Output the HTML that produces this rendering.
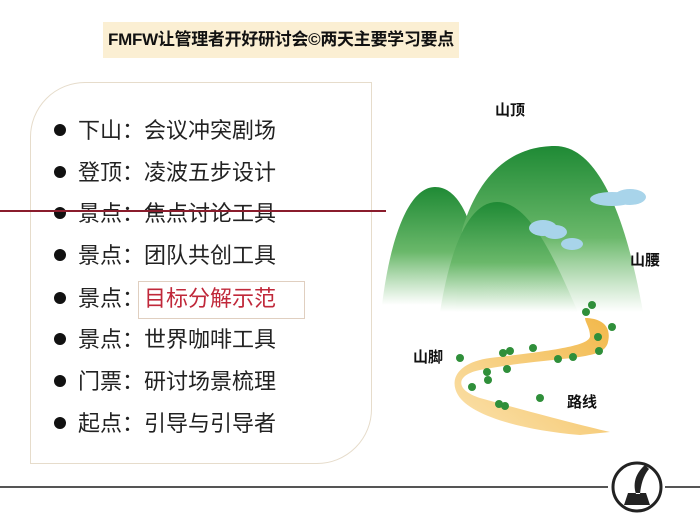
<!DOCTYPE html>
<html><head><meta charset="utf-8"><style>
body{margin:0;width:700px;height:525px;background:#fff;position:relative;overflow:hidden;font-family:"Liberation Sans","Noto Sans CJK SC",sans-serif;}
.t{position:absolute;left:103px;top:22px;width:356px;height:36px;background:#fbefd3;font-weight:bold;font-size:17px;line-height:36px;text-align:center;color:#111;letter-spacing:-0.3px;white-space:nowrap}
.box{position:absolute;left:30px;top:82px;width:340px;height:380px;border:1.5px solid #e6dccb;border-radius:55px 0 55px 0;}
.r{position:absolute;left:54px;font-size:22px;color:#222;height:30px;line-height:30px;white-space:nowrap}
.r b{display:inline-block;width:12px;height:12px;border-radius:50%;background:#111;margin-right:12px;vertical-align:middle;position:relative;top:-2px}
.lab{position:absolute;font-weight:bold;font-size:15px;color:#111}
</style></head><body>
<div class="t">FMFW让管理者开好研讨会©两天主要学习要点</div>
<div class="box"></div>
<div class="r" style="top:116px"><b></b>下山：会议冲突剧场</div>
<div class="r" style="top:158px"><b></b>登顶：凌波五步设计</div>
<div class="r" style="top:199px"><b></b>景点：焦点讨论工具</div>
<div class="r" style="top:241px"><b></b>景点：团队共创工具</div>
<div class="r" style="top:284px"><b></b>景点：<span style="color:#c0283a">目标分解示范</span></div>
<div style="position:absolute;left:138px;top:281px;width:165px;height:36px;border:1px solid #e0cfc0"></div>
<div class="r" style="top:325px"><b></b>景点：世界咖啡工具</div>
<div class="r" style="top:367px"><b></b>门票：研讨场景梳理</div>
<div class="r" style="top:409px"><b></b>起点：引导与引导者</div>
<div style="position:absolute;left:0;top:210px;width:386px;height:2px;background:#8a1c2c"></div>
<svg style="position:absolute;left:0;top:0" width="700" height="525">
<defs>
<linearGradient id="g" x1="0" y1="0" x2="0" y2="1"><stop offset="0" stop-color="#1f8a35"/><stop offset="0.55" stop-color="#6ab86a"/><stop offset="1" stop-color="#fff" stop-opacity="0.9"/></linearGradient>
<linearGradient id="p" x1="1" y1="0" x2="0" y2="1"><stop offset="0" stop-color="#f2b84a"/><stop offset="1" stop-color="#fbe3b0"/></linearGradient>
</defs>
<path d="M382,305 C390,240 408,187 435,187 C462,187 478,230 485,305Z" fill="url(#g)"/>
<path d="M462,230 C480,170 515,146 555,146 C605,146 630,240 643,312 L455,312Z" fill="url(#g)"/>
<path d="M440,312 C450,250 468,202 497,202 C530,202 555,260 578,312Z" fill="url(#g)"/>
<g fill="#a8d4ea"><ellipse cx="612" cy="199" rx="22" ry="7"/><ellipse cx="630" cy="197" rx="16" ry="8"/><ellipse cx="543" cy="228" rx="14" ry="8"/><ellipse cx="555" cy="232" rx="12" ry="7"/><ellipse cx="572" cy="244" rx="11" ry="6"/></g>
<path d="M585,318 C600,318 612,325 608,342 C604,362 560,355 480,370 C455,375 455,390 480,398 C530,412 580,425 610,432 L580,435 C520,430 470,415 458,395 C448,378 460,362 490,358 C560,350 590,345 590,336 C590,328 585,322 585,318Z" fill="url(#p)"/>
<g fill="#2f8f3a">
<circle cx="592" cy="305" r="4"/><circle cx="586" cy="312" r="4"/><circle cx="612" cy="327" r="4"/><circle cx="598" cy="337" r="4"/><circle cx="599" cy="351" r="4"/><circle cx="573" cy="357" r="4"/><circle cx="558" cy="359" r="4"/><circle cx="533" cy="348" r="4"/><circle cx="510" cy="351" r="4"/><circle cx="503" cy="353" r="4"/><circle cx="460" cy="358" r="4"/><circle cx="487" cy="372" r="4"/><circle cx="488" cy="380" r="4"/><circle cx="507" cy="369" r="4"/><circle cx="472" cy="387" r="4"/><circle cx="499" cy="404" r="4"/><circle cx="505" cy="406" r="4"/><circle cx="540" cy="398" r="4"/>
</g>
<line x1="0" y1="487" x2="608" y2="487" stroke="#555" stroke-width="2"/>
<line x1="665" y1="487" x2="700" y2="487" stroke="#555" stroke-width="2"/>
<circle cx="637" cy="487" r="24" fill="#fff" stroke="#222" stroke-width="3"/>
<path d="M624,505 L650,505 L646,493 L628,493Z M636,494 C632,482 637,472 645,465 L649,469 C643,476 641,485 640,494Z" fill="#222"/>
</svg>
<div class="lab" style="left:495px;top:99px">山顶</div>
<div class="lab" style="left:630px;top:249px">山腰</div>
<div class="lab" style="left:413px;top:346px">山脚</div>
<div class="lab" style="left:567px;top:391px">路线</div>
</body></html>
